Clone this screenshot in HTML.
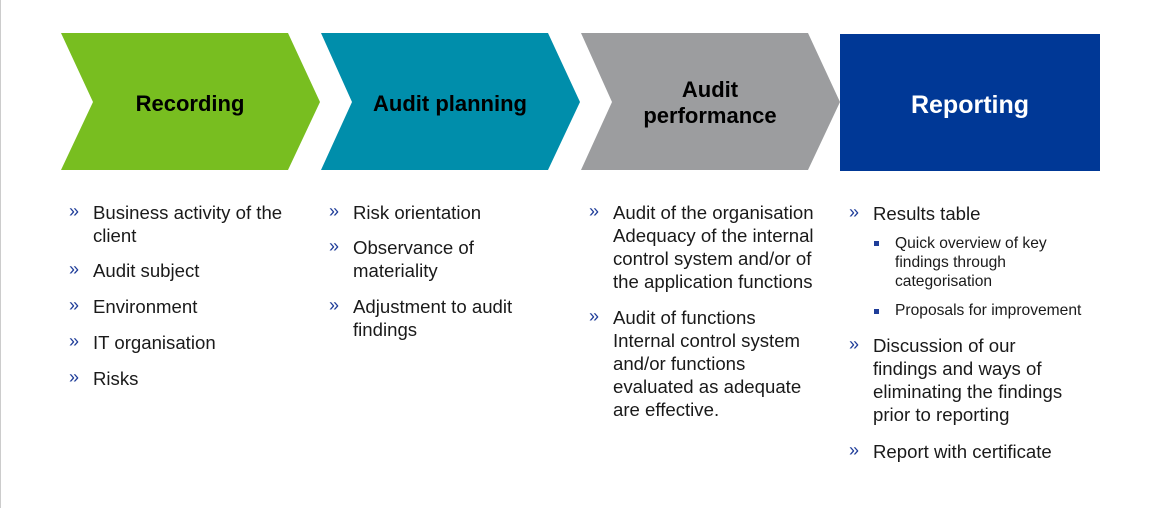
<!DOCTYPE html>
<html><head><meta charset="utf-8"><style>
body{margin:0;width:1160px;height:508px;background:#fff;position:relative;font-family:"Liberation Sans",Arial,sans-serif;overflow:hidden}
.lb{position:absolute;left:0;top:0;width:1px;height:508px;background:#ccc}
.t{position:absolute;font-size:18.6px;line-height:23px;color:#1a1a1a}
.b{position:absolute;font-size:18px;color:#1f3d99}
.s{position:absolute;font-size:15.6px;line-height:19px;color:#1a1a1a}
.sq{position:absolute;width:5px;height:5px;background:#1f3d99}
</style></head><body>
<div class="lb"></div>
<svg width="1160" height="508" style="position:absolute;left:0;top:0">
<polygon points="61,33 288,33 320,102 288,170 61,170 93,102" fill="#78be20"/>
<polygon points="321,33 548,33 580,102 548,170 321,170 352,102" fill="#008eab"/>
<polygon points="581,33 808,33 840,102 808,170 581,170 612,102" fill="#9c9d9f"/>
<rect x="840" y="34" width="260" height="137" fill="#003896"/>
<g font-family="Liberation Sans,Arial,sans-serif" font-weight="bold" font-size="22" text-anchor="middle">
<text x="190" y="111" fill="#000">Recording</text>
<text x="450" y="111" fill="#000">Audit planning</text>
<text x="710" y="97" fill="#000">Audit</text>
<text x="710" y="123" fill="#000">performance</text>
<text x="970" y="113" fill="#fff" font-size="25">Reporting</text>
</g>
</svg>

<div class="b" style="left:69px;top:201px">»</div><div class="t" style="left:93px;top:201px">Business activity of the<br>client</div>
<div class="b" style="left:69px;top:259px">»</div><div class="t" style="left:93px;top:259px">Audit subject</div>
<div class="b" style="left:69px;top:295px">»</div><div class="t" style="left:93px;top:295px">Environment</div>
<div class="b" style="left:69px;top:331px">»</div><div class="t" style="left:93px;top:331px">IT organisation</div>
<div class="b" style="left:69px;top:367px">»</div><div class="t" style="left:93px;top:367px">Risks</div>

<div class="b" style="left:329px;top:201px">»</div><div class="t" style="left:353px;top:201px">Risk orientation</div>
<div class="b" style="left:329px;top:236px">»</div><div class="t" style="left:353px;top:236px">Observance of<br>materiality</div>
<div class="b" style="left:329px;top:295px">»</div><div class="t" style="left:353px;top:295px">Adjustment to audit<br>findings</div>

<div class="b" style="left:589px;top:201px">»</div><div class="t" style="left:613px;top:201px">Audit of the organisation<br>Adequacy of the internal<br>control system and/or of<br>the application functions</div>
<div class="b" style="left:589px;top:306px">»</div><div class="t" style="left:613px;top:306px">Audit of functions<br>Internal control system<br>and/or functions<br>evaluated as adequate<br>are effective.</div>

<div class="b" style="left:849px;top:202px">»</div><div class="t" style="left:873px;top:202px">Results table</div>
<div class="sq" style="left:874px;top:241px"></div><div class="s" style="left:895px;top:234px">Quick overview of key<br>findings through<br>categorisation</div>
<div class="sq" style="left:874px;top:309px"></div><div class="s" style="left:895px;top:301px">Proposals for improvement</div>
<div class="b" style="left:849px;top:334px">»</div><div class="t" style="left:873px;top:334px">Discussion of our<br>findings and ways of<br>eliminating the findings<br>prior to reporting</div>
<div class="b" style="left:849px;top:440px">»</div><div class="t" style="left:873px;top:440px">Report with certificate</div>
</body></html>
